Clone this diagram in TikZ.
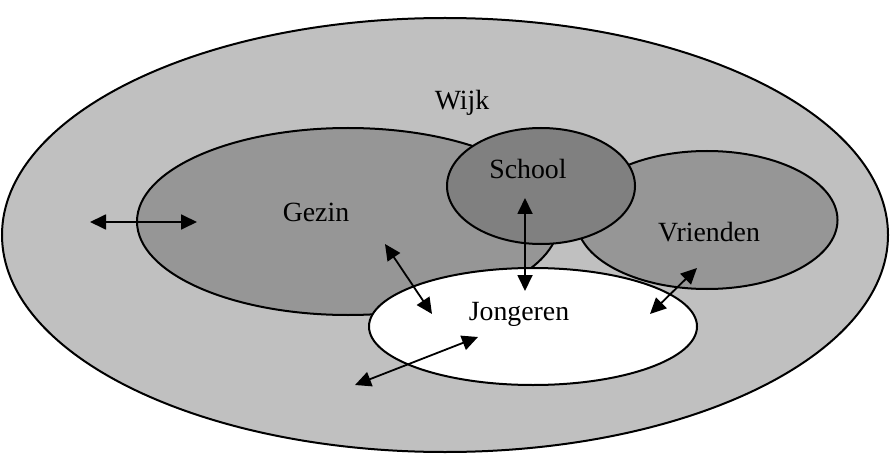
\documentclass[tikz,border=0pt]{standalone}
\usepackage{fontspec}
\setmainfont{Liberation Serif}
\usetikzlibrary{shapes.geometric,arrows.meta}
\definecolor{wijkgray}{HTML}{C0C0C0}
\definecolor{midgray}{HTML}{969696}
\definecolor{darkgray}{HTML}{808080}
\tikzset{
  blob/.style={ellipse, draw=black, line width=2pt, inner sep=0pt},
  lbl/.style={font=\fontsize{27.8}{30}\selectfont, anchor=base, inner sep=0pt},
  link/.style={line width=1.8pt, {Triangle[length=16pt,width=15pt]}-{Triangle[length=16pt,width=15pt]}}
}
\begin{document}
\begin{tikzpicture}[x=1pt,y=-1pt]
\useasboundingbox (0,0) rectangle (890,454);
\node[blob, fill=wijkgray, minimum width=886pt, minimum height=434pt] (wijk) at (445,235) {};
\node[blob, fill=midgray, minimum width=422pt, minimum height=187pt] (gezin) at (348,221.5) {};
\node[blob, fill=midgray, minimum width=261pt, minimum height=138pt] (vrienden) at (707,220) {};
\node[blob, fill=darkgray, minimum width=188pt, minimum height=116pt] (school) at (541,186) {};
\node[blob, fill=white, minimum width=328pt, minimum height=117pt] (jongeren) at (533,326.5) {};
\node[lbl] (twijk) at (462,110) {Wijk};
\node[lbl] (tgezin) at (316,222) {Gezin};
\node[lbl] (tschool) at (528,179) {School};
\node[lbl] (tvrienden) at (709,241) {Vrienden};
\node[lbl] (tjongeren) at (519,320) {Jongeren};
\coordinate (a1) at (90,222);
\coordinate (a2) at (197,222);
\coordinate (b1) at (385,244);
\coordinate (b2) at (432,314);
\coordinate (c1) at (525,198);
\coordinate (c2) at (525,291);
\coordinate (d1) at (697,268);
\coordinate (d2) at (650,314);
\coordinate (e1) at (355,385);
\coordinate (e2) at (478,337);
\draw[link] (a1) -- (a2);
\draw[link] (b1) -- (b2);
\draw[link] (c1) -- (c2);
\draw[link] (d1) -- (d2);
\draw[link] (e1) -- (e2);
\end{tikzpicture}
\end{document}
